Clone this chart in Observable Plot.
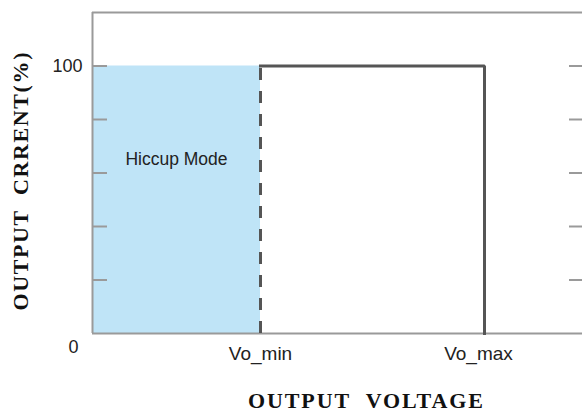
<!DOCTYPE html>
<html>
<head>
<meta charset="utf-8">
<script src="https://cdn.jsdelivr.net/npm/d3@7"></script>
<script src="https://cdn.jsdelivr.net/npm/@observablehq/plot@0.6"></script>
<style>
  html, body { margin: 0; padding: 0; background: #fff; }
  #chart svg { display: block; }
</style>
</head>
<body>
<div id="chart"></div>
<script>
// ---- data ----
const voltageDomain = [0, 8.75];          // arbitrary voltage units
const currentDomain = [0, 120];           // percent
const voltagePositions = [3, 7];          // Vo_min, Vo_max
const voltageLabels = ["Vo_min", "Vo_max"];
const currentTicks = [20, 40, 60, 80, 100];
const currentLabelValues = [0, 100];
const currentLabels = ["0", "100"];
const hiccupStart = 0;
const hiccupLevel = 100;                  // % current limit
const hiccupText = "Hiccup Mode";
const xTitle = "OUTPUT\u00a0\u00a0VOLTAGE";
const yTitle = "OUTPUT\u00a0\u00a0CRRENT(%)";

// derived tables
const vMin = voltagePositions[0], vMax = voltagePositions[1];
const hiccupRect = [{x1: hiccupStart, x2: vMin, y: hiccupLevel}];
const limitCurve = [
  {x: vMin, y: hiccupLevel},
  {x: vMax, y: hiccupLevel},
  {x: vMax, y: 0}
];
const dashedEdge = [{x: vMin, y1: 0, y2: hiccupLevel}];
const xLabelRows = voltagePositions.map((v, i) => ({v, label: voltageLabels[i]}));
const yLabelRows = currentLabelValues.map((v, i) => ({v, label: currentLabels[i]}));

const frameColor = "#9a9a9a";
const lineColor = "#555555";
const sans = "'Liberation Sans', Arial, sans-serif";
const serif = "'Liberation Serif', 'Times New Roman', serif";

const chart = Plot.plot({
  width: 582,
  height: 411,
  marginLeft: 92,
  marginRight: 0,
  marginTop: 12,
  marginBottom: 78,
  style: {background: "#fff", overflow: "hidden"},
  x: {domain: voltageDomain, axis: null},
  y: {domain: currentDomain, axis: null},
  marks: [
    Plot.rectY(hiccupRect, {x1: "x1", x2: "x2", y1: 0, y2: "y", fill: "#bfe4f7"}),
    // frame: left, top, bottom
    Plot.ruleX([voltageDomain[0]], {y1: currentDomain[0], y2: currentDomain[1], stroke: frameColor, strokeWidth: 2}),
    Plot.ruleY([currentDomain[1]], {stroke: frameColor, strokeWidth: 2}),
    Plot.ruleY([currentDomain[0]], {stroke: frameColor, strokeWidth: 2}),
    // inward ticks
    Plot.axisY({anchor: "left", ticks: currentTicks, tickSize: -15, tickFormat: () => "", stroke: frameColor, strokeWidth: 2, label: null}),
    Plot.axisY({anchor: "right", ticks: currentTicks, tickSize: -14, tickFormat: () => "", stroke: frameColor, strokeWidth: 2, label: null}),
    // dashed Vo_min edge
    Plot.ruleX(dashedEdge, {x: "x", y1: "y1", y2: "y2", stroke: lineColor, strokeWidth: 3, strokeDasharray: "12,11"}),
    // current-limit curve
    Plot.line(limitCurve, {x: "x", y: "y", stroke: lineColor, strokeWidth: 3, strokeLinejoin: "miter", strokeLinecap: "square"}),
    // labels
    Plot.text(yLabelRows, {x: voltageDomain[0], y: "v", text: "label",
      fontSize: 18, fontFamily: sans, fill: "#222", textAnchor: "end"}),
    Plot.text(xLabelRows, {x: "v", y: currentDomain[0], text: "label", dy: 20,
      fontSize: 19, fontFamily: sans, fill: "#222"}),
    Plot.text([hiccupText], {x: (hiccupStart + vMin) / 2, y: 65, text: d => d,
      fontSize: 17.5, fontFamily: sans, fill: "#222"}),
    Plot.text([xTitle], {frameAnchor: "bottom", textAnchor: "middle", lineAnchor: "middle", dx: 28, dy: 67, text: d => d,
      fontSize: 22, fontWeight: "bold", fontFamily: serif, fill: "#111"}),
    Plot.text([yTitle], {frameAnchor: "left", textAnchor: "middle", lineAnchor: "middle", dx: -72, dy: 8.5, rotate: -90, text: d => d,
      fontSize: 22, fontWeight: "bold", fontFamily: serif, fill: "#111"})
  ]
});
document.getElementById("chart").appendChild(chart);

// fine-tune label offsets and title lengths
d3.select(chart).selectAll("text").each(function() {
  const t = this.textContent;
  const tr = this.getAttribute("transform") || "";
  if (t === "0") this.setAttribute("transform", tr + " translate(-14,14)");
  if (t === "100") this.setAttribute("transform", tr + " translate(-10,0)");
  if (t === "Vo_max") this.setAttribute("transform", tr + " translate(-6,0)");
  if (t === xTitle) { this.setAttribute("textLength", 235); this.setAttribute("lengthAdjust", "spacing"); }
  if (t === yTitle) { this.setAttribute("textLength", 258); this.setAttribute("lengthAdjust", "spacing"); }
});
</script>
</body>
</html>
